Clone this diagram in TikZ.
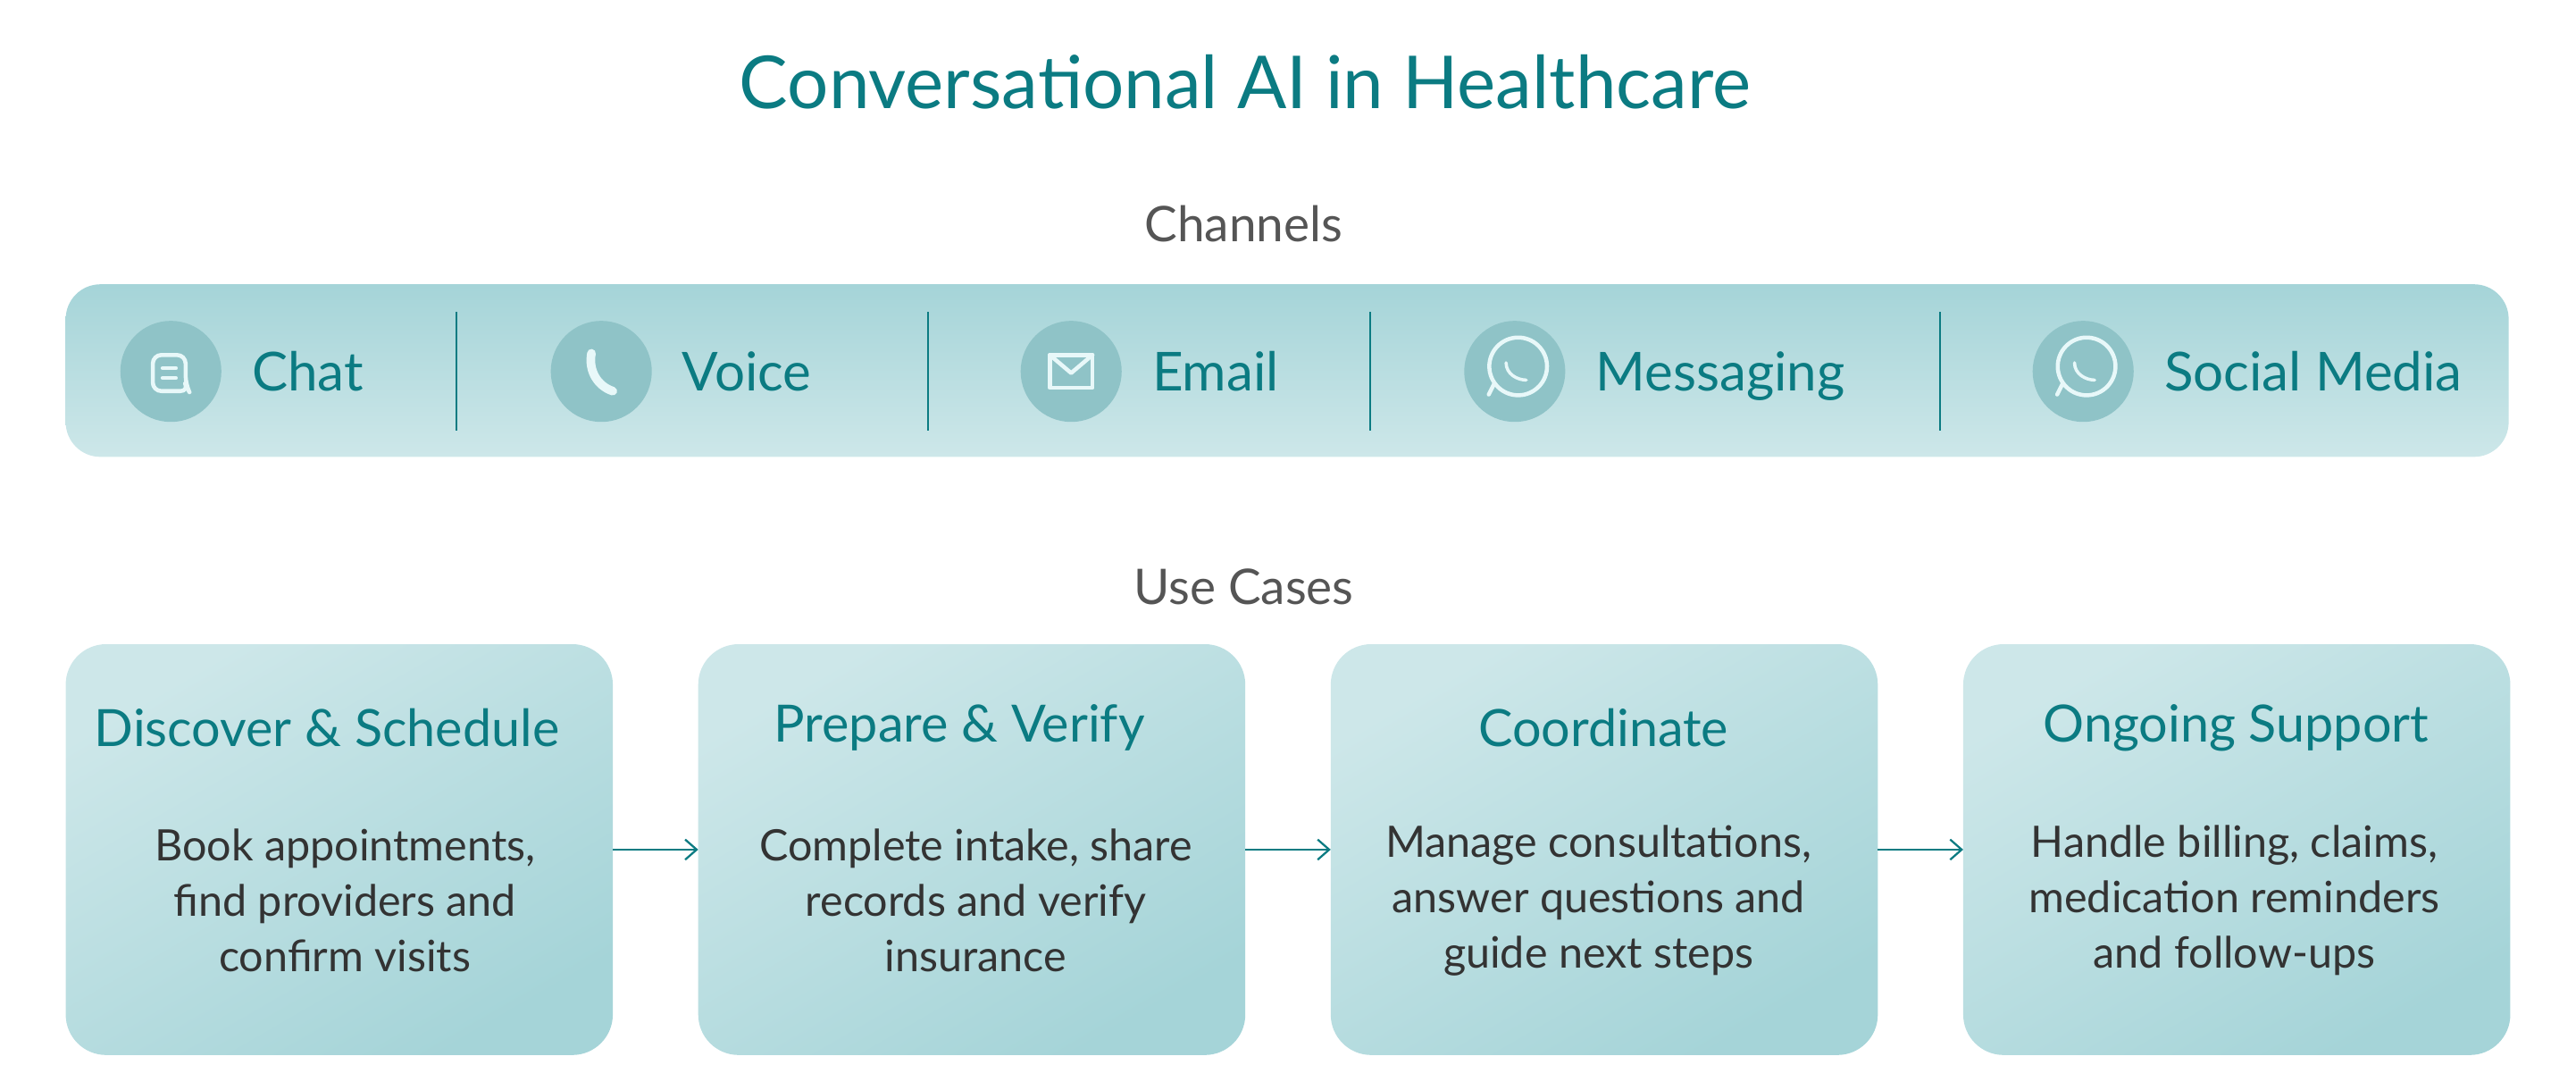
\documentclass[tikz,border=0pt]{standalone}
\usepackage{fontspec}
\setmainfont{Lato}
\usetikzlibrary{arrows.meta}
\definecolor{teal}{HTML}{0B7B82}
\definecolor{txtgray}{HTML}{555555}
\definecolor{bodygray}{HTML}{333333}
\definecolor{bardark}{HTML}{A5D4D8}
\definecolor{barlight}{HTML}{CDE7E9}
\definecolor{iconbg}{HTML}{8FC3C7}
\definecolor{iconfg}{HTML}{E8F8F9}
\tikzset{
  head/.style={text=txtgray, font=\fontsize{17}{19}\selectfont},
  chan/.style={anchor=base west, inner sep=0pt, text=teal, font=\fontsize{18.6}{21}\selectfont},
  icon/.style={circle, fill=iconbg, minimum size=35pt, inner sep=0pt},
  card/.style={rounded corners=14pt, top color=barlight, bottom color=bardark, shading angle=30},
  ctitle/.style={text=teal, font=\fontsize{17.8}{20}\selectfont},
  cbody/.style={text=bodygray, align=center, font=\fontsize{15}{19.2}\selectfont},
  flow/.style={-{Straight Barb[length=4pt,width=7pt]}, draw=teal, line width=0.7pt},
  ico/.style={draw=iconfg, line width=1.4pt, line cap=round, line join=round}
}
\begin{document}
\begin{tikzpicture}[x=0.02cm, y=-0.02cm]
\useasboundingbox (0,0) rectangle (1568,663);
% title and headings
\node (title) [text=teal, font=\fontsize{25.3}{28}\selectfont] at (758,50) {Conversational AI in Healthcare};
\node (chanhead) [head] at (757,136) {Channels};
\node (usehead) [head] at (757,357) {Use Cases};
% channel bar
\shade [rounded corners=12pt, top color=bardark, bottom color=barlight] (40,173) rectangle (1527,278);
\foreach \x in {278,565,834,1181}
  \draw [teal, line width=0.6pt] (\x,190) -- (\x,262);
\node (ichat) [icon] at (104,226) {};
\node (ivoice) [icon] at (366,226) {};
\node (iemail) [icon] at (652,226) {};
\node (imsg) [icon] at (922,226) {};
\node (isocial) [icon] at (1268,226) {};
\node (chat) [chan] at (153,238) {Chat};
\node (voice) [chan] at (415,238) {Voice};
\node (email) [chan] at (701,238) {Email};
\node (msg) [chan] at (971,238) {Messaging};
\node (social) [chan] at (1317,238) {Social Media};
% icon glyphs
\draw [ico, rounded corners=3pt] (93,216) -- (93,238) -- (115,238) -- (113,234) -- (113,216) -- cycle;
\draw [ico] (99,224) -- (107,224) (99,230) -- (107,230);
\draw [ico, line width=3pt] (360,215) .. controls (358,226) and (364,235) .. (373,238);
\draw [ico] (639,216) rectangle (665,236);
\draw [ico] (639,216) -- (652,227) -- (665,216);
\foreach \c in {imsg,isocial} {
  \draw [ico] ([xshift=-9pt,yshift=-8pt]\c.center) -- ([xshift=-7pt,yshift=-4pt]\c.center)
    arc (215:-145:10pt) -- cycle;
  \draw [ico, line width=1.1pt] ([xshift=-3pt,yshift=3pt]\c.center) .. controls ([xshift=-3pt,yshift=-1pt]\c.center) and ([xshift=1pt,yshift=-3pt]\c.center) .. ([xshift=4pt,yshift=-3pt]\c.center);
}
% use case cards
\foreach \x/\n in {40/a,425/b,810/c,1195/d} {
  \shade [card] (\x,392) rectangle (\x+333,642);
  \coordinate (\n w) at (\x,517);
  \coordinate (\n e) at (\x+333,517);
}
\node (t1) [ctitle] at (199,443) {Discover \& Schedule};
\node (t2) [ctitle] at (584,443) {Prepare \& Verify};
\node (t3) [ctitle] at (976,443) {Coordinate};
\node (t4) [ctitle] at (1361,443) {Ongoing Support};
\node (b1) [cbody] at (210,548) {Book appointments,\\find providers and\\confirm visits};
\node (b2) [cbody] at (594,548) {Complete intake, share\\records and verify\\insurance};
\node (b3) [cbody] at (973,548) {Manage consultations,\\answer questions and\\guide next steps};
\node (b4) [cbody] at (1360,548) {Handle billing, claims,\\medication reminders\\and follow-ups};
\draw [flow] (ae) -- (bw);
\draw [flow] (be) -- (cw);
\draw [flow] (ce) -- (dw);
\end{tikzpicture}
\end{document}
